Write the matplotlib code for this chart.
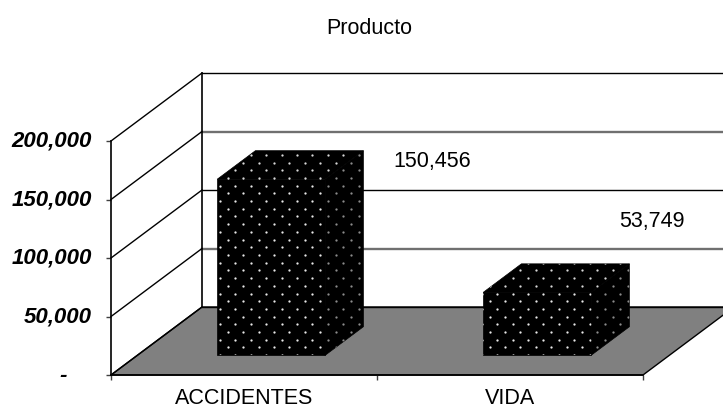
import numpy as np
import matplotlib
matplotlib.use("Agg")
import matplotlib.pyplot as plt
from matplotlib.patches import Polygon
from matplotlib.transforms import ScaledTranslation

categories = ["ACCIDENTES", "VIDA"]
values = [150456, 53749]
y_ticks = [0, 50000, 100000, 150000, 200000]
y_tick_labels = ["-    ", "50,000", "100,000", "150,000", "200,000"]

plt.rcParams["font.family"] = ["Liberation Sans", "DejaVu Sans"]
FS = 15.5

# oblique depth: how far one full unit of depth shifts a point, in data units
DX = 91 / 266
DY = 68 / 234 * 200000
BAR_W = 0.406
D0, D1 = 0.29, 0.71


def project(x, v, d):
    return (x + d * DX, v + d * DY)


def dotted_face(ax, pts, dot_color):
    face = Polygon(pts, closed=True, fc="black", ec="black", lw=0.5, clip_on=False, zorder=3)
    ax.add_patch(face)
    # staggered dot lattice
    step_x = 15.4 / 266
    step_y = 7.7 / 234 * 200000
    x0 = (220 - 111) / 266
    y0 = (375 - 185.7) / 234 * 200000
    xs, ys = [], []
    for j in range(-30, 30):
        row_x = x0 + (j % 2) * step_x / 2 + np.arange(-10, 40) * step_x
        xs.extend(row_x)
        ys.extend([y0 + j * step_y] * len(row_x))
    dots = ax.scatter(xs, ys, s=2.7, c=dot_color, linewidths=0, zorder=4, clip_on=True)
    dots.set_clip_path(face)


fig = plt.figure(figsize=(7.23, 4.09), dpi=100)
ax = fig.add_axes([111 / 723, 1 - 375 / 409, 532 / 723, 234 / 409])
ax.set_xlim(0, 2)
ax.set_ylim(0, 200000)
ax.patch.set_visible(False)

# floor
floor = [project(0, 0, 0), project(2, 0, 0), project(2, 0, 1), project(0, 0, 1)]
ax.add_patch(Polygon(floor, closed=True, fc="#808080", ec="black", lw=1.0, clip_on=False, zorder=1))

# walls: gridlines on the back wall and diagonals on the side wall
for i, t in enumerate(y_ticks):
    back_l = project(0, t, 1)
    back_r = project(2, t, 1)
    front = project(0, t, 0)
    ax.plot([back_l[0], back_r[0]], [back_l[1], back_r[1]], clip_on=False, zorder=1.5,
            color="#707070" if i % 2 else "black", lw=1.7 if i % 2 else 1.0)
    ax.plot([front[0], back_l[0]], [front[1], back_l[1]], color="black", lw=1.0,
            clip_on=False, zorder=1.5)
base = project(0, y_ticks[0], 1)
top = project(0, y_ticks[-1], 1)
ax.plot([base[0], top[0]], [base[1], top[1]], color="black", lw=1.2, clip_on=False, zorder=1.5)

# bars
for i, v in enumerate(values):
    l = i + 0.5 - BAR_W / 2 + 0.003
    r = l + BAR_W
    front_face = [project(l, 0, D0), project(r, 0, D0), project(r, v, D0), project(l, v, D0)]
    top_face = [project(l, v, D0), project(r, v, D0), project(r, v, D1), project(l, v, D1)]
    side_face = [project(r, 0, D0), project(r, 0, D1), project(r, v, D1), project(r, v, D0)]
    dotted_face(ax, side_face, "#8c8c8c")
    dotted_face(ax, top_face, "#d8d8d8")
    dotted_face(ax, front_face, "#e8e8e8")

# value labels sit off to the right of each bar
ax.text(1.207, 182900, f"{values[0]:,}", ha="center", va="center", fontsize=FS, zorder=5)
ax.text(2.032, 130800, f"{values[1]:,}", ha="center", va="center", fontsize=FS, zorder=5)

for s in ["top", "right"]:
    ax.spines[s].set_visible(False)
ax.spines["left"].set_linewidth(1.2)
ax.spines["bottom"].set_linewidth(1.2)

ax.set_yticks(y_ticks)
ax.set_yticklabels(y_tick_labels, fontsize=16, fontweight="bold", fontstyle="italic")
ax.tick_params(axis="y", length=3.6, width=1.0, pad=10, color="#404040")
# y labels sit slightly above their ticks
up = ScaledTranslation(0, 1.5 / 72, fig.dpi_scale_trans)
for lab in ax.get_yticklabels():
    lab.set_transform(lab.get_transform() + up)
ax.set_xticks([0, 1, 2])
ax.set_xticklabels([])
ax.set_xticks([0.5, 1.5], minor=True)
ax.set_xticklabels(categories, minor=True, fontsize=FS)
ax.tick_params(axis="x", which="major", length=3.6, width=1.0, color="#404040")
ax.tick_params(axis="x", which="minor", length=0, pad=9)

fig.text(369 / 723, 1 - 28.5 / 409, "Producto", ha="center", va="center", fontsize=FS)

fig.savefig("out.png", dpi=100)
